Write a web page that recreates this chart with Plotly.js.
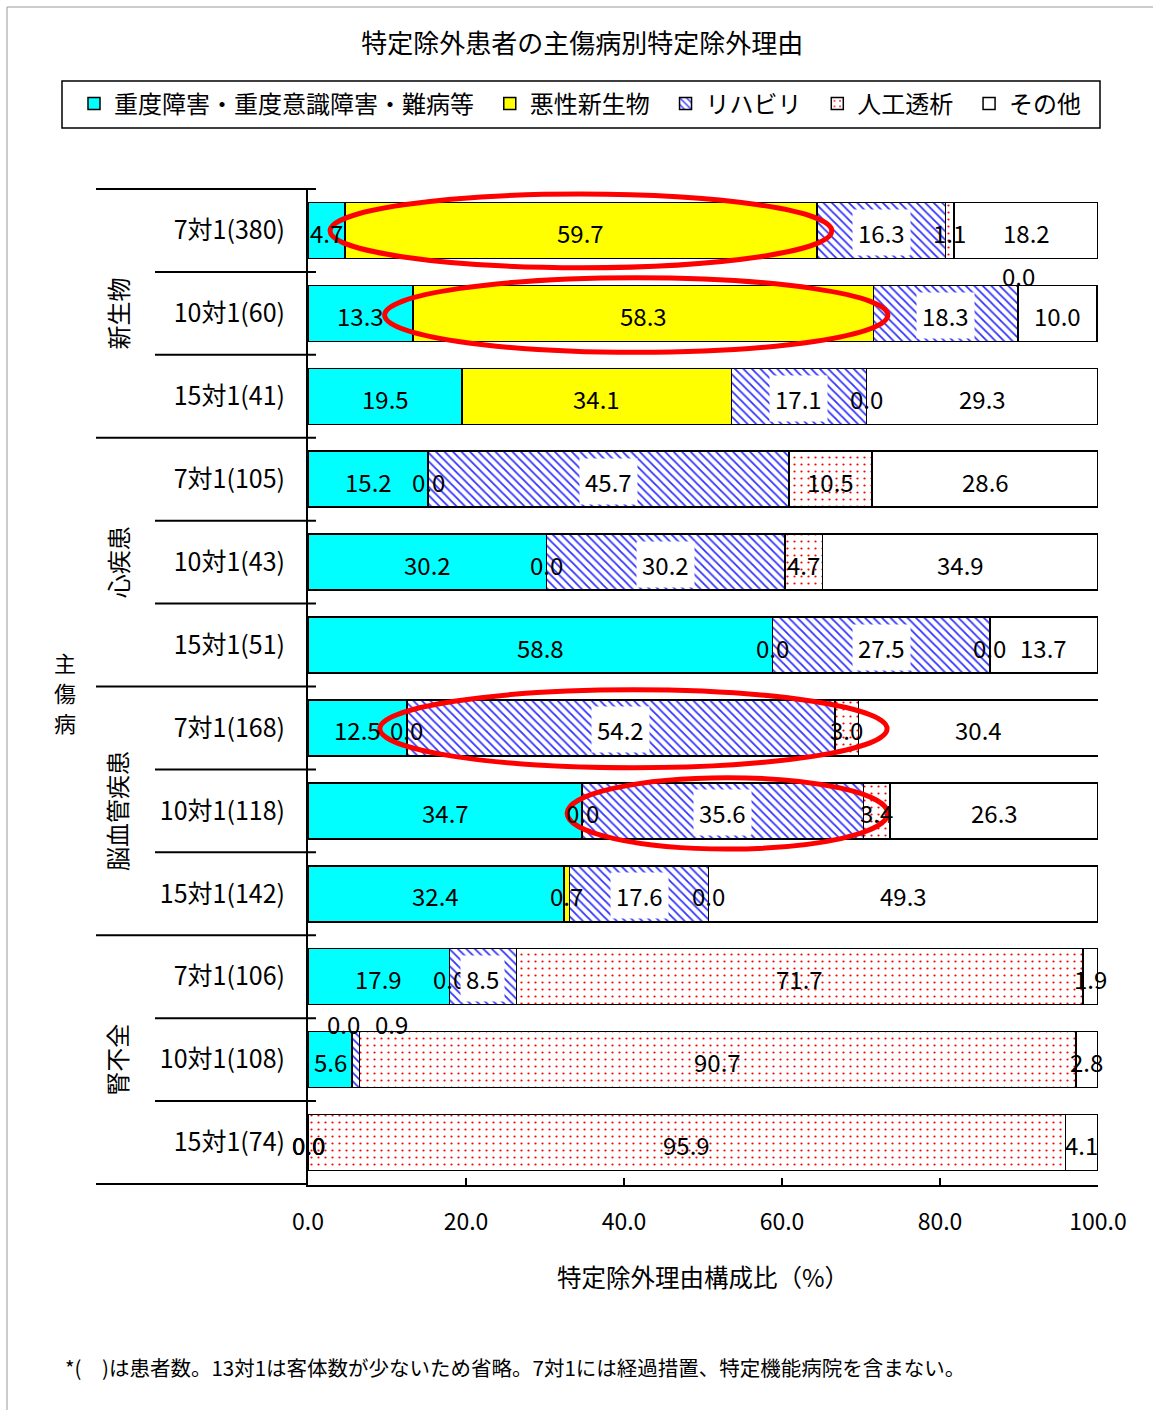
<!DOCTYPE html>
<html><head><meta charset="utf-8">
<script src="https://cdn.plot.ly/plotly-3.0.1.min.js"></script>
<style>body{margin:0;background:#fff}#chart{width:1153px;height:1410px}</style>
</head><body><div id="chart"></div>
<script>
// ---- data ----
const categories = ["7対1(380)","10対1(60)","15対1(41)","7対1(105)","10対1(43)","15対1(51)","7対1(168)","10対1(118)","15対1(142)","7対1(106)","10対1(108)","15対1(74)"];
const groups = ["新生物","心疾患","脳血管疾患","腎不全"];
const groupSizes = [3,3,3,3];
const seriesNames = ["重度障害・重度意識障害・難病等","悪性新生物","リハビリ","人工透析","その他"];
const severe    = [4.7,13.3,19.5,15.2,30.2,58.8,12.5,34.7,32.4,17.9,5.6,0.0];
const malignant = [59.7,58.3,34.1,0.0,0.0,0.0,0.0,0.0,0.7,0.0,0.0,0.0];
const rehab     = [16.3,18.3,17.1,45.7,30.2,27.5,54.2,35.6,17.6,8.5,0.9,0.0];
const dialysis  = [1.1,0.0,0.0,10.5,4.7,0.0,3.0,3.4,0.0,71.7,90.7,95.9];
const other     = [18.2,10.0,29.3,28.6,34.9,13.7,30.4,26.3,49.3,1.9,2.8,4.1];
const xTicks = [0,20,40,60,80,100];
const chartTitle = "特定除外患者の主傷病別特定除外理由";
const xTitle = "特定除外理由構成比（%）";
const yTitleChars = ["主","傷","病"];
const footnote = "*(　)は患者数。13対1は客体数が少ないため省略。7対1には経過措置、特定機能病院を含まない。";

// ---- styles ----
const FONT = "'Noto Sans CJK JP', sans-serif";
const series = [severe, malignant, rehab, dialysis, other];
const styles = [
  {color:"#00FFFF"},
  {color:"#FFFF00"},
  {color:"#FFFFFF", pattern:{shape:"\\", fgcolor:"#3333FF", bgcolor:"#FFFFFF", size:6, solidity:0.3}},
  {color:"#FFFFFF", pattern:{shape:".", fgcolor:"#FF0000", bgcolor:"#FFFFFF", size:7, solidity:0.08}},
  {color:"#FFFFFF"}
];
// label offsets (px) for labels Excel moved: key "row,series"
const labelOffsets = {"1,3":{dx:0,dy:40}, "10,1":{dx:-9,dy:38}, "10,2":{dx:36,dy:38}};
// highlight ellipses [x0,x1,y0,y1] in data units / row index
const highlights = [[2.8,66.3,-0.44,0.45],[9.7,73.4,0.57,1.47],[9.1,73.3,5.54,6.48],[32.8,73.4,6.60,7.46]];

const NB = "\u00A0\u00A0";
const traces = series.map((vals, s) => ({
  type:"bar", orientation:"h", name: seriesNames[s] + NB,
  y: categories, x: vals,
  marker: Object.assign({line:{color:"#000", width:1.5}}, styles[s].pattern ? {color:styles[s].color, pattern:styles[s].pattern} : {color:styles[s].color}),
  textposition:"none", hoverinfo:"skip"
}));

// ---- annotations: value labels ----
const annotations = [];
const order = [0,1,3,4,2];
const cum = series.map(() => new Array(categories.length).fill(0));
for (let i = 0; i < categories.length; i++) {
  let c = 0;
  for (let s = 0; s < series.length; s++) { cum[s][i] = c; c += series[s][i]; }
}
order.forEach(s => {
  for (let i = 0; i < categories.length; i++) {
    const v = series[s][i];
    const off = labelOffsets[i + "," + s] || {dx:0, dy:0};
    const a = {
      x: cum[s][i] + v/2, y: categories[i], xref:"x", yref:"y",
      text: v.toFixed(1), showarrow:false,
      font:{family:FONT, size:24, color:"#000"},
      xshift: off.dx, yshift: off.dy - 2
    };
    if (s === 2 && v > 0 && !labelOffsets[i + "," + s]) { a.bgcolor = "#FFFFFF"; a.borderpad = 5; }
    annotations.push(a);
  }
});

const L = 308, W = 790;
const px = v => (v - L)/W;
const py = v => (1185 - v)/997;

// group labels
let start = 0;
groups.forEach((g, k) => {
  const center = start + (groupSizes[k]-1)/2;
  annotations.push({x:px(117), xref:"paper", xanchor:"center", y:center, yref:"y", yanchor:"middle", text:g, textangle:-90,
    showarrow:false, font:{family:FONT, size:24, color:"#000"}});
  start += groupSizes[k];
});
yTitleChars.forEach((ch, j) => {
  annotations.push({x:px(65), xref:"paper", xanchor:"center", y:py(662 + 30*j), yref:"paper", yanchor:"middle", text:ch, showarrow:false,
    font:{family:FONT, size:22, color:"#000"}});
});
annotations.push({x:px(63), xref:"paper", y:py(1367), yref:"paper", text:footnote, showarrow:false,
  xanchor:"left", yanchor:"middle", font:{family:FONT, size:20.5, color:"#000"}});

// ---- shapes ----
const shapes = [];
for (let k = 0; k <= categories.length; k++) {
  let isGroup = false, acc = 0;
  for (const gs of groupSizes) { if (acc === k) isGroup = true; acc += gs; }
  if (acc === k) isGroup = true;
  shapes.push({type:"line", xref:"paper", yref:"y", x0: isGroup ? px(96) : px(155),
    x1: k === categories.length ? 0 : px(316), y0:k-0.5, y1:k-0.5,
    line:{color:"#000", width:2}});
}
highlights.forEach(h => shapes.push({type:"circle", xref:"x", yref:"y", x0:h[0], x1:h[1], y0:h[2], y1:h[3],
  line:{color:"#FF0000", width:5}, layer:"above"}));
// legend box
shapes.push({type:"rect", xref:"paper", yref:"paper", x0:px(62), x1:px(1100), y0:py(128), y1:py(81),
  line:{color:"#000", width:1.5}});
// outer frame
shapes.push({type:"rect", xref:"paper", yref:"paper", x0:px(7), x1:px(1165), y0:py(1425), y1:py(7),
  line:{color:"#999", width:1}});

const layout = {
  width:1153, height:1410,
  margin:{l:308, r:55, t:188, b:225},
  paper_bgcolor:"#fff", plot_bgcolor:"#fff",
  font:{family:FONT, color:"#000"},
  barmode:"stack", bargap:0.325,
  title:{text:chartTitle, font:{family:FONT, size:26}, xref:"container", x:0.505, y:1-44/1410, yanchor:"middle"},
  showlegend:true,
  legend:{orientation:"h", x:px(74), xanchor:"left", y:py(104), yanchor:"middle",
    font:{family:FONT, size:24}, borderwidth:0, bgcolor:"rgba(0,0,0,0)", traceorder:"normal"},
  xaxis:{range:[0,100], tickvals:xTicks, ticktext:xTicks.map(v=>v.toFixed(1)),
    ticks:"inside", ticklen:7, tickwidth:1.5, tickcolor:"#000",
    showline:true, linecolor:"#000", linewidth:2, showgrid:false, zeroline:false,
    tickfont:{family:FONT, size:23}, ticklabelstandoff:15,
    title:{text:xTitle, font:{family:FONT, size:24.5}, standoff:34}},
  yaxis:{type:"category", categoryorder:"array", categoryarray:categories, autorange:"reversed",
    showline:true, linecolor:"#000", linewidth:2, ticks:"", showgrid:false, zeroline:false,
    tickfont:{family:FONT, size:25}, ticklabelstandoff:16},
  annotations, shapes
};
Plotly.newPlot("chart", traces, layout, {displayModeBar:false, staticPlot:true});
</script></body></html>
